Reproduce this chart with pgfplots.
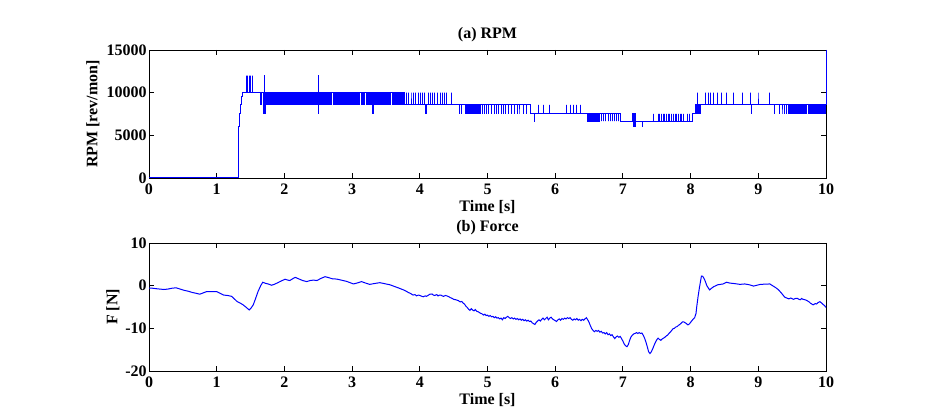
\documentclass[border=0pt]{standalone}
\usepackage{fontspec}
\setmainfont{Liberation Serif}
\usepackage{pgfplots}
\pgfplotsset{compat=1.18}
\pgfplotsset{
  matl/.style={
    scale only axis, width=507.75pt, height=96pt,
    xmin=0, xmax=10, xtick={0,1,...,10},
    tick align=inside, major tick length=3.75pt,
    axis line style={line width=0.7pt, black},
    every tick/.style={black, line width=0.7pt},
    font=\fontsize{12}{14}\selectfont\bfseries,
    tick label style={font=\fontsize{12}{14}\selectfont\bfseries},
    label style={font=\fontsize{12}{14}\selectfont\bfseries},
    title style={font=\fontsize{12}{14}\selectfont\bfseries, at={(axis description cs:0.5,1)}, anchor=base, yshift=2.3pt},
    xlabel style={at={(axis description cs:0.5,0)}, anchor=base, yshift=-25.5pt},
    xticklabel style={anchor=base, yshift=-12.6pt},
    /pgf/number format/assume math mode=true,
    /pgf/number format/set thousands separator={},
    scaled y ticks=false,
    yticklabel style={xshift=1.8pt},
    clip=false,
    xlabel={Time [s]},
  }
}
\begin{document}
\begin{tikzpicture}
\useasboundingbox (0,0) rectangle (707.25pt,309.75pt);
\begin{axis}[matl, at={(111.75pt,176.25pt)}, anchor=south west,
  ymin=0, ymax=15000, ytick={0,5000,10000,15000},
  title={(a) RPM}, ylabel={RPM [rev/mon]},
  ylabel style={at={(axis description cs:-0.0827,0.5)}, anchor=center}]
\addplot[const plot, color=blue, line width=0.75pt] coordinates {
(0,0)(1.317,0)(1.317,4300)(1.322,5200)(1.327,6000)(1.333,6700)(1.34,7500)(1.345,8000)(1.35,8571)(1.36,9200)(1.368,9600)(1.375,10000)
(1.443,12000)(1.443,10000)(1.457,12000)(1.457,10000)(1.48,12000)(1.48,10000)(1.50,12000)(1.50,10000)(1.525,12000)(1.525,10000)
(1.648,8571)(1.662,10000)(1.69,7500)(1.70,12000)(1.705,7500)(1.715,10000)
(1.72,8571)(1.73,10000)(1.74,8571)(1.75,10000)(1.76,8571)(1.77,10000)(1.78,8571)(1.79,10000)
(1.80,8571)(1.81,10000)(1.82,8571)(1.83,10000)(1.84,8571)(1.85,10000)(1.86,8571)(1.87,10000)(1.88,8571)(1.89,10000)
(1.90,8571)(1.91,10000)(1.92,8571)(1.93,10000)(1.94,8571)(1.95,10000)(1.96,8571)(1.97,10000)(1.98,8571)(1.99,10000)
(2.00,8571)(2.01,10000)(2.02,8571)(2.03,10000)(2.04,8571)(2.05,10000)(2.06,8571)(2.07,10000)(2.08,8571)(2.09,10000)
(2.10,8571)(2.11,10000)(2.12,8571)(2.13,10000)(2.14,8571)(2.15,10000)(2.16,8571)(2.17,10000)(2.18,8571)(2.19,10000)
(2.20,8571)(2.21,10000)(2.22,8571)(2.23,10000)(2.24,8571)(2.25,10000)(2.26,8571)(2.27,10000)(2.28,8571)(2.29,10000)
(2.30,8571)(2.31,10000)(2.32,8571)(2.33,10000)(2.34,8571)(2.35,10000)(2.36,8571)(2.37,10000)(2.38,8571)(2.39,10000)
(2.40,8571)(2.41,10000)(2.42,8571)(2.43,10000)(2.44,8571)(2.45,10000)(2.46,8571)(2.47,10000)(2.48,8571)(2.49,10000)
(2.50,12000)(2.505,7500)(2.51,10000)(2.52,8571)(2.53,10000)(2.54,8571)(2.55,10000)(2.56,8571)(2.57,10000)(2.58,8571)(2.59,10000)
(2.60,8571)(2.61,10000)(2.62,8571)(2.63,10000)(2.64,8571)(2.65,10000)(2.66,8571)(2.67,10000)(2.68,8571)(2.69,10000)
(2.72,8571)(2.73,10000)(2.74,8571)(2.75,10000)(2.76,8571)(2.77,10000)(2.78,8571)(2.79,10000)
(2.80,8571)(2.81,10000)(2.82,8571)(2.83,10000)(2.84,8571)(2.85,10000)(2.86,8571)(2.87,10000)(2.88,8571)(2.89,10000)
(2.90,8571)(2.91,10000)(2.92,8571)(2.93,10000)(2.94,8571)(2.95,10000)(2.96,8571)(2.97,10000)(2.98,8571)(2.99,10000)
(3.00,8571)(3.01,10000)(3.02,8571)(3.03,10000)(3.04,8571)(3.05,10000)(3.06,8571)(3.07,10000)(3.08,8571)(3.09,10000)
(3.10,8571)(3.11,10000)(3.14,8571)(3.15,10000)(3.16,8571)(3.17,10000)(3.18,8571)(3.19,10000)
(3.22,8571)(3.23,10000)(3.24,8571)(3.25,10000)(3.26,8571)(3.27,10000)(3.28,8571)(3.29,10000)
(3.30,7500)(3.31,10000)(3.32,8571)(3.33,10000)(3.34,8571)(3.35,10000)(3.36,8571)(3.37,10000)(3.38,8571)(3.39,10000)
(3.40,8571)(3.41,10000)(3.42,8571)(3.43,10000)(3.44,8571)(3.45,10000)(3.46,8571)(3.47,10000)(3.48,8571)(3.49,10000)
(3.50,8571)(3.51,10000)(3.52,8571)(3.53,10000)(3.54,8571)(3.55,10000)(3.56,8571)(3.57,10000)
(3.60,8571)(3.61,10000)(3.62,8571)(3.63,10000)(3.64,8571)(3.65,10000)(3.66,8571)(3.67,10000)(3.68,8571)(3.69,10000)
(3.70,8571)(3.71,10000)(3.72,8571)(3.73,10000)(3.74,8571)(3.75,10000)(3.76,8571)(3.77,10000)(3.78,8571)
(3.806,10000)(3.806,8571)(3.84,10000)(3.84,8571)(3.87,10000)(3.87,8571)(3.905,10000)(3.905,8571)(3.94,10000)(3.94,8571)
(3.98,10000)(3.98,8571)(4.01,10000)(4.01,8571)(4.04,10000)(4.04,8571)(4.07,10000)(4.07,8571)(4.09,7500)(4.095,8571)
(4.13,10000)(4.13,8571)(4.16,10000)(4.16,8571)(4.19,10000)(4.19,8571)(4.22,10000)(4.22,8571)(4.26,10000)(4.26,8571)
(4.30,10000)(4.30,8571)(4.33,10000)(4.33,8571)(4.37,10000)(4.37,8571)(4.40,10000)(4.40,8571)(4.47,10000)(4.47,8571)
(4.59,7500)(4.59,8571)(4.62,7500)(4.62,8571)
(4.67,7500)(4.68,8571)(4.69,7500)(4.70,8571)(4.71,7500)(4.72,8571)(4.73,7500)(4.74,8571)(4.75,7500)(4.76,8571)(4.77,7500)(4.78,8571)(4.79,7500)
(4.80,8571)(4.81,7500)(4.82,8571)(4.83,7500)(4.84,8571)(4.85,7500)(4.86,8571)(4.87,7500)(4.88,8571)(4.89,7500)(4.90,8571)
(4.92,7500)(4.92,8571)(4.95,7500)(4.95,8571)(4.99,7500)(4.99,8571)(5.02,7500)(5.02,8571)(5.06,7500)(5.06,8571)
(5.10,7500)(5.10,8571)(5.13,7500)(5.13,8571)(5.16,7500)(5.16,8571)(5.20,7500)(5.20,8571)(5.23,7500)(5.23,8571)
(5.27,7500)(5.27,8571)(5.31,7500)(5.31,8571)(5.36,7500)(5.36,8571)(5.40,7500)(5.40,8571)(5.44,7500)(5.44,8571)
(5.48,7500)(5.48,8571)(5.53,7500)(5.53,8571)(5.58,7500)(5.58,8571)(5.63,7500)
(5.69,6667)(5.695,7500)(5.75,8571)(5.75,7500)(5.83,8571)(5.83,7500)(5.92,8571)(5.92,7500)
(6.17,8571)(6.17,7500)(6.22,8571)(6.22,7500)(6.27,8571)(6.27,7500)(6.32,8571)(6.32,7500)(6.38,8571)(6.38,7500)
(6.47,6667)(6.48,7500)(6.49,6667)(6.50,7500)(6.51,6667)(6.52,7500)(6.53,6667)(6.54,7500)(6.55,6667)(6.56,7500)
(6.57,6667)(6.58,7500)(6.59,6667)(6.60,7500)(6.61,6667)(6.62,7500)(6.63,6667)(6.64,7500)(6.65,6667)(6.66,7500)
(6.69,6667)(6.69,7500)(6.72,6667)(6.72,7500)(6.75,6667)(6.75,7500)(6.78,6667)(6.78,7500)(6.81,6667)(6.81,7500)
(6.84,6667)(6.84,7500)(6.87,6667)(6.87,7500)(6.90,6667)(6.90,7500)(6.93,6667)(6.93,7500)(6.96,6667)
(7.14,7500)(7.15,6000)(7.165,7500)(7.18,6000)(7.185,6667)(7.29,6000)(7.295,6667)
(7.45,7500)(7.45,6667)(7.52,7500)(7.52,6667)(7.545,7500)(7.545,6667)(7.57,7500)(7.57,6667)(7.595,7500)(7.595,6667)
(7.62,7500)(7.62,6667)(7.645,7500)(7.645,6667)(7.67,7500)(7.67,6667)(7.695,7500)(7.695,6667)(7.72,7500)(7.72,6667)
(7.745,7500)(7.745,6667)(7.77,7500)(7.77,6667)(7.795,7500)(7.795,6667)(7.82,7500)(7.82,6667)(7.845,7500)(7.845,6667)
(7.87,7500)(7.87,6667)(7.90,7500)(7.90,6667)(7.95,7500)(7.95,6667)(7.99,7500)(7.99,6667)(8.03,7500)
(8.07,8571)(8.085,7500)(8.10,10000)(8.10,7500)(8.12,8571)(8.13,7500)(8.14,8571)
(8.22,10000)(8.22,8571)(8.26,10000)(8.26,8571)(8.29,10000)(8.29,8571)(8.34,10000)(8.34,8571)(8.40,10000)(8.40,8571)
(8.46,10000)(8.46,8571)(8.53,10000)(8.53,8571)(8.64,10000)(8.64,8571)(8.77,10000)(8.77,8571)(8.88,10000)(8.88,8571)
(8.895,7500)(8.90,8571)(9.01,10000)(9.01,8571)(9.17,10000)(9.17,8571)
(9.24,7500)(9.245,8571)(9.32,7500)(9.32,8571)(9.35,7500)(9.35,8571)(9.38,7500)(9.38,8571)(9.41,7500)(9.41,8571)
(9.44,7500)(9.45,8571)(9.46,7500)(9.47,8571)(9.48,7500)(9.49,8571)
(9.50,7500)(9.51,8571)(9.52,7500)(9.53,8571)(9.54,7500)(9.55,8571)(9.56,7500)(9.57,8571)(9.58,7500)(9.59,8571)
(9.60,7500)(9.61,8571)(9.62,7500)(9.63,8571)(9.64,7500)(9.65,8571)(9.66,7500)(9.67,8571)(9.68,7500)(9.69,8571)
(9.70,7500)(9.71,8571)(9.74,7500)(9.75,8571)(9.76,7500)(9.77,8571)(9.78,7500)(9.79,8571)
(9.80,7500)(9.81,8571)(9.82,7500)(9.83,8571)(9.84,7500)(9.85,8571)(9.86,7500)(9.87,8571)(9.88,7500)(9.89,8571)
(9.90,7500)(9.91,8571)(9.92,7500)(9.93,8571)(9.94,7500)(9.95,8571)(9.96,7500)(9.97,8571)(9.98,7500)(9.99,8571)
(10,15000)
};
\end{axis}
\begin{axis}[matl, at={(111.75pt,31.5pt)}, anchor=south west,
  ymin=-20, ymax=10, ytick={-20,-10,0,10},
  title={(b) Force}, ylabel={F [N]},
  ylabel style={at={(axis description cs:-0.0532,0.5)}, anchor=center}]
\addplot[color=blue, line width=0.75pt] coordinates {
(0.00,-0.6)(0.05,-0.6)(0.10,-0.7)(0.16,-0.8)(0.22,-0.9)(0.28,-0.8)(0.34,-0.6)(0.40,-0.5)(0.46,-0.8)(0.52,-1.1)
(0.58,-1.3)(0.64,-1.6)(0.70,-1.8)(0.75,-2.0)(0.80,-1.7)(0.85,-1.4)(0.92,-1.4)(1.00,-1.4)(1.05,-1.8)(1.10,-2.2)
(1.16,-2.3)(1.22,-2.5)(1.26,-3.1)(1.30,-3.7)(1.35,-4.1)(1.39,-4.5)(1.43,-5.0)(1.48,-5.7)(1.51,-5.2)(1.54,-4.5)
(1.57,-3.2)(1.61,-1.4)(1.65,0.0)(1.68,0.8)(1.72,0.55)(1.76,0.4)(1.81,0.1)(1.85,0.3)(1.89,0.6)(1.94,1.0)
(2.01,1.5)(2.05,1.3)(2.08,1.2)(2.12,1.6)(2.16,1.95)(2.21,1.6)(2.27,1.2)(2.33,0.95)(2.38,1.2)(2.43,1.3)
(2.48,1.2)(2.54,1.7)(2.60,2.1)(2.65,1.9)(2.71,1.6)(2.77,1.55)(2.84,1.3)(2.92,1.0)(2.97,0.7)(3.02,0.4)
(3.07,0.6)(3.14,0.95)(3.20,0.6)(3.26,0.3)(3.33,0.5)(3.41,0.7)(3.50,0.4)(3.56,0.2)(3.61,-0.1)(3.68,-0.5)
(3.76,-1.0)(3.80,-1.3)(3.83,-1.6)(3.86,-1.8)(3.90,-2.2)(3.93,-2.1)(3.95,-2.4)(3.98,-2.2)(4.00,-2.3)(4.03,-2.5)
(4.05,-2.6)(4.08,-2.4)(4.10,-2.5)(4.13,-2.2)(4.15,-2.0)(4.18,-1.95)(4.20,-2.2)(4.22,-2.3)(4.25,-2.1)(4.27,-2.4)
(4.29,-2.2)(4.31,-2.2)(4.33,-2.4)(4.35,-2.5)(4.38,-2.3)(4.40,-2.4)(4.43,-2.6)(4.45,-2.8)(4.48,-3.0)(4.50,-3.2)
(4.53,-3.3)(4.55,-3.4)(4.57,-3.5)(4.59,-3.75)
(4.60,-3.8)(4.62,-3.7)(4.64,-4.1)(4.66,-4.3)(4.68,-4.8)(4.70,-5.1)(4.72,-5.5)(4.74,-5.8)(4.76,-5.4)(4.78,-5.7)
(4.80,-5.9)(4.82,-5.6)(4.84,-6.0)(4.86,-6.1)(4.88,-6.3)(4.90,-6.5)(4.92,-6.6)(4.94,-6.9)(4.96,-6.7)(4.98,-7.0)
(5.00,-6.9)(5.02,-7.2)(5.04,-7.0)(5.06,-7.3)(5.08,-7.2)(5.10,-7.5)(5.12,-7.3)(5.14,-7.6)(5.16,-7.5)(5.18,-7.8)
(5.20,-7.6)(5.22,-8.0)(5.24,-7.5)(5.26,-7.7)(5.28,-7.4)(5.30,-7.2)(5.32,-7.5)(5.34,-7.7)(5.36,-7.5)(5.38,-7.8)
(5.40,-7.6)(5.42,-7.9)(5.44,-7.7)(5.46,-8.0)(5.48,-7.8)(5.50,-8.1)(5.52,-7.9)(5.54,-8.2)(5.56,-8.0)(5.58,-8.3)
(5.60,-8.1)(5.62,-8.4)(5.64,-8.3)(5.66,-8.7)(5.68,-8.9)(5.70,-9.1)(5.72,-8.6)(5.74,-8.3)(5.76,-8.0)(5.78,-8.3)
(5.80,-7.9)(5.82,-7.6)(5.84,-8.0)(5.86,-7.7)(5.88,-7.4)(5.90,-8.0)(5.92,-7.6)(5.94,-7.4)(5.96,-7.8)(5.98,-8.0)
(6.00,-8.2)(6.02,-8.4)(6.04,-8.0)(6.06,-7.8)(6.08,-8.1)(6.10,-7.7)(6.12,-7.9)(6.14,-7.6)(6.16,-7.8)(6.18,-7.5)
(6.20,-7.7)(6.22,-7.5)(6.24,-7.9)(6.26,-8.1)(6.28,-7.8)(6.30,-8.0)(6.32,-7.7)(6.34,-8.1)(6.36,-7.9)(6.38,-8.2)
(6.40,-7.9)(6.42,-8.1)(6.44,-7.8)(6.46,-7.5)(6.48,-8.0)(6.50,-8.6)(6.52,-9.4)(6.54,-10.1)(6.56,-10.5)(6.58,-10.8)
(6.60,-10.5)(6.62,-10.7)(6.64,-10.5)(6.66,-10.9)(6.68,-10.7)(6.70,-11.1)(6.72,-11.0)(6.74,-11.3)(6.76,-11.0)(6.78,-11.5)
(6.80,-11.3)(6.82,-11.7)(6.84,-11.5)(6.86,-12.0)(6.88,-12.4)(6.90,-12.0)(6.92,-11.8)(6.94,-12.1)(6.96,-11.9)(6.98,-12.4)
(7.00,-13.0)(7.02,-13.7)(7.04,-14.1)(7.06,-14.3)(7.08,-13.8)(7.10,-12.8)(7.12,-12.0)(7.14,-11.6)(7.16,-11.3)(7.18,-11.2)
(7.20,-11.0)(7.22,-11.2)(7.24,-11.0)(7.26,-11.2)(7.28,-11.1)(7.30,-11.6)(7.32,-12.3)(7.34,-13.2)(7.36,-14.3)(7.38,-15.5)
(7.40,-15.9)(7.42,-15.5)(7.44,-14.8)(7.46,-14.0)(7.48,-13.3)(7.50,-12.7)(7.52,-12.3)(7.54,-12.6)(7.56,-12.8)(7.58,-12.5)
(7.60,-12.3)(7.62,-12.1)(7.64,-11.8)(7.66,-11.6)(7.68,-11.2)(7.70,-10.9)(7.72,-10.5)(7.74,-10.1)(7.76,-10.0)(7.78,-9.7)
(7.80,-9.6)(7.82,-9.3)(7.84,-9.1)(7.86,-8.8)(7.88,-8.5)(7.90,-8.5)(7.92,-8.7)(7.94,-8.9)(7.96,-9.2)(7.98,-9.0)
(8.00,-8.6)(8.02,-8.2)(8.04,-7.8)(8.06,-7.5)(8.08,-6.5)(8.09,-5.0)(8.11,-2.6)(8.13,-0.5)(8.16,2.25)(8.18,2.2)
(8.21,1.3)(8.24,0.0)(8.28,-1.0)(8.31,-0.6)(8.34,-0.25)(8.40,0.2)(8.48,0.4)(8.53,0.8)(8.58,0.6)(8.64,0.5)
(8.73,0.3)(8.80,0.4)(8.87,0.2)(8.93,-0.1)(8.98,0.1)(9.03,0.3)(9.10,0.35)(9.17,0.4)(9.22,-0.1)(9.26,-0.5)
(9.30,-1.0)(9.35,-1.9)(9.39,-2.7)(9.42,-2.9)(9.45,-3.1)(9.48,-2.9)(9.52,-3.2)(9.55,-3.0)(9.58,-3.0)(9.60,-3.2)
(9.62,-3.3)(9.64,-3.0)(9.66,-3.2)(9.69,-3.3)(9.72,-3.5)(9.75,-3.8)(9.77,-4.1)(9.79,-4.3)(9.81,-4.5)(9.84,-4.2)
(9.86,-4.3)(9.88,-4.0)(9.91,-3.75)(9.93,-4.0)(9.95,-4.3)(9.98,-4.7)(10.0,-5.1)
};
\end{axis}
\end{tikzpicture}
\end{document}
